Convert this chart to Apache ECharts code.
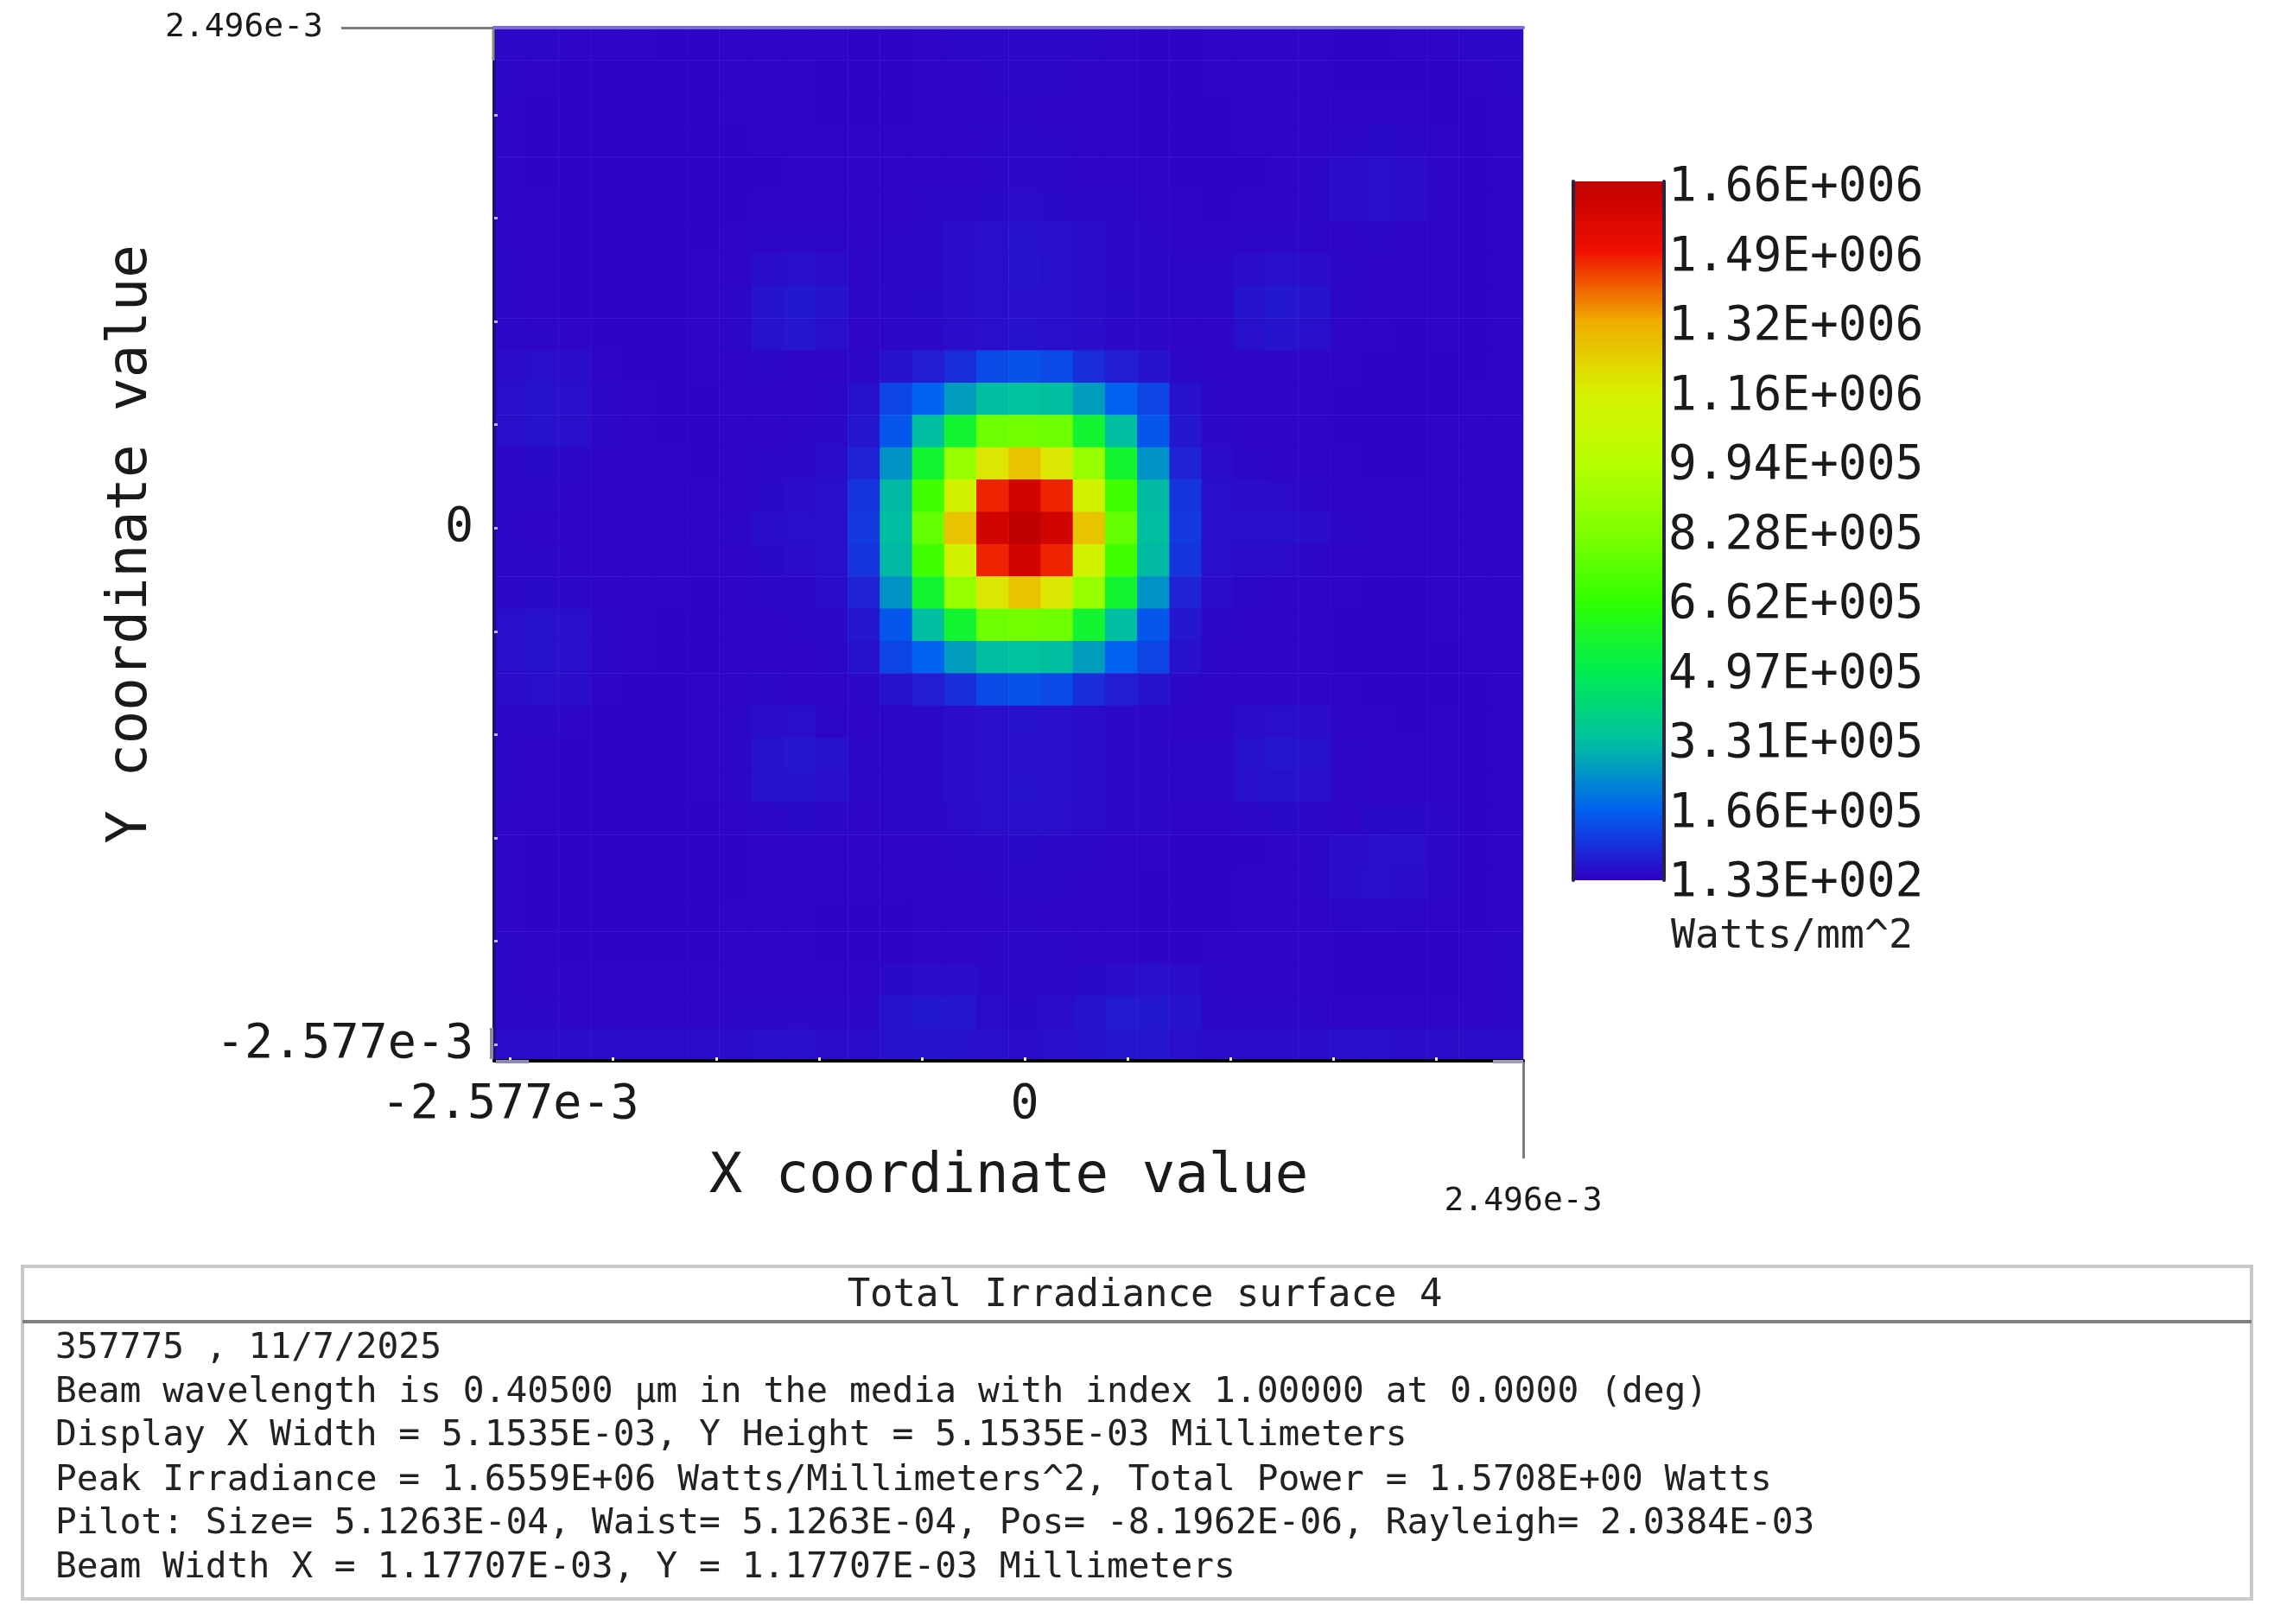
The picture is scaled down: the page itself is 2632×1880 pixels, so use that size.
<!DOCTYPE html>
<html><head><meta charset="utf-8">
<style>html,body{margin:0;padding:0;background:#fff}#c{width:2632px;height:1880px}</style>
<script src="https://cdn.jsdelivr.net/npm/echarts@6/dist/echarts.min.js"></script>
</head><body><div id="c"></div>
<script>
// irradiance, in units of 1000 W/mm^2, rows listed top to bottom, columns left to right
const irradianceRows = [
[14,12,10,10,10, 9, 9,10,11,11,10, 9, 9,10,12,14,15,14,12,10, 9, 9,10,11,11,10, 9, 9,10,10,12,14],
[12,10, 9, 9, 9, 9, 9,10,10,10, 9, 9, 9,10,11,12,13,12,11,10, 9, 9,10,10,10,10, 9, 9, 9, 9,10,12],
[11, 9, 8, 8, 8, 9, 9,10,10,10, 9, 9, 9,10,10,11,12,11,10,10, 9, 9, 9,10,10,10,10,10,10, 9, 9,11],
[11, 9, 8, 8, 8, 8, 9, 9,10,10,10,10,10,10,11,12,13,12,11,10, 9, 9, 9,10,10,10,14,16,14,10, 9,11],
[11, 9, 8, 8, 8, 8, 8, 9, 9,10,10,10,10,10,11,12,14,12,11,10,10, 9, 9, 9,10,12,20,24,20,11, 9,11],
[11,10, 9, 8, 8, 8, 8, 9,10,11,11,10,10,12,14,16,18,16,14,12,10,10, 9,10,11,12,20,24,20,10, 9,11],
[11,10, 9, 8, 8, 8, 9,10,12,14,12,11,12,14,20,28,32,28,20,14,12,11,11,12,14,12,11,12,11,10, 9,11],
[12,10, 9, 8, 8, 9,10,11,22,26,22,12,13,15,22,28,34,28,22,15,13,12,12,22,26,22,12,10,10,10, 9,11],
[12,10, 9, 8, 8, 9,10,12,34,42,34,14,14,16,22,26,28,26,22,16,14,13,13,34,42,34,12,10,10,10, 9,11],
[13,12,10, 9, 9, 9,10,12,30,36,26,10,12,15,20,25,30,25,20,15,12,10,10,28,34,28,11,10, 9,10, 9,11],
[20,26,20,10, 9, 9,10,10,12,11,10,15,35,50,80,130,140,130,80,50,35,15,10,10,11,10,10, 9, 9, 9, 9,11],
[26,32,26,12,10, 9, 9,10,10,10,12,30,120,170,270,330,340,330,270,170,120,30,12,10,10,10, 9, 9, 9, 9,10,11],
[24,30,24,12,10, 9, 9,10,10,12,14,40,150,330,560,790,800,790,560,330,150,40,14,11,10,10, 9, 9, 9,10,10,11],
[14,16,14,11,10,10, 9,10,12,14,22,60,250,560,900,1180,1270,1180,900,560,250,60,20,12,11,10,10, 9, 9,10,10,11],
[12,12,11,10,10,10,10,10,16,20,25,90,320,700,1130,1470,1600,1470,1130,700,320,90,25,20,18,12,10,10,10,10,10,11],
[12,11,10,10,10,10,10,12,22,26,28,100,330,770,1270,1600,1656,1600,1270,770,330,100,28,24,28,22,12,10,10,10,10,11],
[12,12,11,10,10,10,10,10,16,20,25,90,320,700,1130,1470,1600,1470,1130,700,320,90,25,20,18,12,10,10,10,10,10,11],
[14,16,14,11,10,10, 9,10,12,14,22,60,250,560,900,1180,1270,1180,900,560,250,60,20,12,11,10,10, 9, 9,10,10,11],
[24,30,24,12,10, 9, 9,10,10,12,14,40,150,330,560,790,800,790,560,330,150,40,14,11,10,10, 9, 9, 9,10,10,11],
[26,32,26,12,10, 9, 9,10,10,10,12,30,120,170,270,330,340,330,270,170,120,30,12,10,10,10, 9, 9, 9, 9,10,11],
[20,26,20,10, 9, 9,10,10,12,11,10,15,35,50,80,130,140,130,80,50,35,15,10,10,11,10,10, 9, 9, 9, 9,11],
[12,12,10, 9, 9, 9,10,12,20,24,12,10,12,15,20,25,30,25,20,15,12,10,10,20,24,20,11,10, 9,10, 9,11],
[12,10, 9, 8, 8, 9,10,12,32,38,30,13,13,15,20,24,26,24,20,15,13,12,13,30,38,30,12,10,10,10, 9,11],
[12,10, 9, 8, 8, 9,10,12,30,34,28,13,13,15,20,26,30,26,20,15,13,12,13,28,32,28,12,10,10,10, 9,11],
[11,10, 9, 8, 8, 8, 9,10,14,16,14,11,12,14,18,24,28,24,18,14,12,11,11,14,16,14,11,16,16,14, 9,11],
[11, 9, 8, 8, 8, 8, 8, 9,10,10,10,10,10,10,12,14,16,14,12,10,10, 9, 9, 9,10,12,20,26,24,12, 9,11],
[11, 9, 8, 8, 8, 8, 9, 9,10,10,10,10,10,10,11,12,13,12,11,10, 9, 9, 9,10,10,12,22,26,22,12, 9,11],
[11, 9, 8, 8, 8, 9, 9,10,10,10, 9, 9, 9,10,10,11,12,11,10,10, 9, 9, 9,10,10,10,12,14,12,10, 9,11],
[12,10, 9, 9, 9, 9, 9,10,10,10, 9, 9, 9,10,11,12,13,12,11,10, 9, 9,10,10,10,10, 9, 9, 9, 9,10,12],
[12,11,10,10,10,10,10,10,11,11,10,10,16,20,22,14,13,14,16,22,24,20,12,10,10,10, 9, 9, 9, 9,10,12],
[13,12,11,10,10,11,11,12,13,14,13,14,32,42,40,18,16,18,32,44,42,32,14,13,12,12,11,11,10,10,11,13],
[22,20,20,20,22,22,22,22,24,24,22,22,30,34,30,24,22,24,30,38,36,28,22,20,20,22,24,24,22,20,20,18]
];
const xCategories = irradianceRows[0].map((_, i) => String(i));
const yCategories = irradianceRows.map((_, i) => String(i));

const xMinEdge = -2.6575e-3, xMaxEdge = 2.496e-3;
const yMinEdge = -2.6575e-3, yMaxEdge = 2.496e-3;
const tickValues = [-2.577e-3,-2.0616e-3,-1.5462e-3,-1.0308e-3,-0.5154e-3,0,0.5154e-3,1.0308e-3,1.5462e-3,2.0616e-3];
const mainLabelValues = [-2.577e-3, 0];
const mainLabelTexts = ['-2.577e-3', '0'];
const endLabelValue = 2.496e-3;
const endLabelText = '2.496e-3';

const legendLabels = ['1.66E+006','1.49E+006','1.32E+006','1.16E+006','9.94E+005','8.28E+005','6.62E+005','4.97E+005','3.31E+005','1.66E+005','1.33E+002'];
const legendMin = 0.133, legendMax = 1656;
const legendColors = ['#3000c4','#0060f0','#00c0a0','#00ee50','#30ff00','#80ff00','#b8ff00','#d8f000','#f0ac00','#f01000','#c00000'];
const legendUnit = 'Watts/mm^2';

const xName = 'X coordinate value', yName = 'Y coordinate value';
const panelTitle = 'Total Irradiance surface 4';
const infoLines = [
 '357775 , 11/7/2025',
 'Beam wavelength is 0.40500 µm in the media with index 1.00000 at 0.0000 (deg)',
 'Display X Width = 5.1535E-03, Y Height = 5.1535E-03 Millimeters',
 'Peak Irradiance = 1.6559E+06 Watts/Millimeters^2, Total Power = 1.5708E+00 Watts',
 'Pilot: Size= 5.1263E-04, Waist= 5.1263E-04, Pos= -8.1962E-06, Rayleigh= 2.0384E-03',
 'Beam Width X = 1.17707E-03, Y = 1.17707E-03 Millimeters'
];

const FONT = '"DejaVu Sans Mono", monospace';
const TXT = '#1a1a1a';
const cells = [];
irradianceRows.forEach((row, r) => row.forEach((v, c) => cells.push([c, irradianceRows.length - 1 - r, v])));

function labelFor(v) {
  const i = mainLabelValues.findIndex(m => Math.abs(m - v) < 1e-7);
  return i >= 0 ? mainLabelTexts[i] : '';
}
const hidden = {axisLine:{show:false},axisTick:{show:false},axisLabel:{show:false},splitLine:{show:false}};
const chart = echarts.init(document.getElementById('c'), null, {renderer:'canvas'});
const info = infoLines.map((t, i) => ({
  type:'text', x:64, y:[1561,1612,1662,1714,1764,1815][i],
  style:{text:t, font:'41.25px '+FONT, fill:'#222', textVerticalAlign:'middle'}
}));
chart.setOption({
  animation:false,
  backgroundColor:'#fff',
  grid:[
    {left:572, top:32, width:1191, height:1196},
    {left:1821, top:210, width:105, height:809},
    {left:1821, top:218, width:105, height:805}
  ],
  xAxis:[
    {type:'category', gridIndex:0, data:xCategories, ...hidden},
    {type:'value', gridIndex:0, position:'bottom', min:xMinEdge, max:xMaxEdge, z:10,
     name:xName, nameLocation:'middle', nameGap:103, nameTextStyle:{fontFamily:FONT,fontSize:64,color:TXT},
     splitLine:{show:false},
     axisLine:{show:true,onZero:false,lineStyle:{color:'#000',width:4}},
     axisTick:{show:true,inside:true,length:4,customValues:tickValues,lineStyle:{color:'#e8e8f0',width:3}},
     axisLabel:{show:true,customValues:mainLabelValues,formatter:labelFor,margin:24,fontFamily:FONT,fontSize:55,color:TXT,hideOverlap:false}},
    {type:'value', gridIndex:0, position:'bottom', min:xMinEdge, max:xMaxEdge, z:9,
     splitLine:{show:false}, axisLine:{show:false,onZero:false},
     axisTick:{show:true,length:113,customValues:[endLabelValue],lineStyle:{color:'#7c7c7c',width:3}},
     axisLabel:{show:true,customValues:[endLabelValue],formatter:()=>endLabelText,margin:144,fontFamily:FONT,fontSize:38,color:TXT,hideOverlap:false}},
    {type:'value', gridIndex:0, position:'top', min:xMinEdge, max:xMaxEdge, z:10,
     splitLine:{show:false}, axisTick:{show:false}, axisLabel:{show:false},
     axisLine:{show:true,onZero:false,lineStyle:{color:'#7a6ad6',width:4}}},
    {type:'value', gridIndex:1, min:0, max:1, ...hidden},
    {type:'value', gridIndex:2, min:0, max:1, ...hidden}
  ],
  yAxis:[
    {type:'category', gridIndex:0, data:yCategories, ...hidden},
    {type:'value', gridIndex:0, position:'left', min:yMinEdge, max:yMaxEdge, z:10,
     name:yName, nameLocation:'middle', nameGap:388, nameRotate:90, nameTextStyle:{fontFamily:FONT,fontSize:64,color:TXT},
     splitLine:{show:false},
     axisLine:{show:true,onZero:false,lineStyle:{color:'#1c1070',width:4}},
     axisTick:{show:true,inside:true,length:4,customValues:tickValues,lineStyle:{color:'#b8b0f0',width:3}},
     axisLabel:{show:true,customValues:mainLabelValues,formatter:labelFor,margin:24,fontFamily:FONT,fontSize:55,color:TXT,hideOverlap:false}},
    {type:'value', gridIndex:0, position:'left', min:yMinEdge, max:yMaxEdge, z:9,
     splitLine:{show:false}, axisLine:{show:false,onZero:false},
     axisTick:{show:true,length:177,customValues:[endLabelValue],lineStyle:{color:'#7c7c7c',width:3}},
     axisLabel:{show:true,customValues:[endLabelValue],formatter:()=>endLabelText,margin:198,fontFamily:FONT,fontSize:38,color:TXT,hideOverlap:false}},
    {type:'value', gridIndex:1, position:'right', min:0, max:1, z:10,
     splitLine:{show:false}, axisTick:{show:false}, axisLabel:{show:false},
     axisLine:{show:true,onZero:false,lineStyle:{color:'#2a2440',width:4}}},
    {type:'value', gridIndex:1, position:'left', min:0, max:1, z:10,
     splitLine:{show:false}, axisTick:{show:false}, axisLabel:{show:false},
     axisLine:{show:true,onZero:false,lineStyle:{color:'#2a2440',width:4}}},
    {type:'category', gridIndex:2, inverse:true, boundaryGap:false, position:'right', data:legendLabels, z:10,
     splitLine:{show:false}, axisTick:{show:false}, axisLine:{show:false,onZero:false},
     axisLabel:{show:true,interval:0,margin:5,fontFamily:FONT,fontSize:54.5,color:TXT,hideOverlap:false}}
  ],
  visualMap:{
    type:'continuous', min:legendMin, max:legendMax, dimension:2, seriesIndex:0,
    calculable:false, realtime:false, hoverLink:false, silent:true,
    left:1821, top:210, itemWidth:105, itemHeight:809, padding:0, text:['',''], showLabel:false, z:1,
    inRange:{color:legendColors}
  },
  series:[{
    type:'heatmap', xAxisIndex:0, yAxisIndex:0, data:cells, progressive:0, silent:true,
    itemStyle:{borderWidth:0}, emphasis:{disabled:true}
  }],
  graphic:[
    {type:'rect', shape:{x:26,y:1466,width:2580,height:385}, style:{fill:'none',stroke:'#c8c8c8',lineWidth:4}, z:0},
    {type:'line', shape:{x1:26,y1:1530,x2:2606,y2:1530}, style:{stroke:'#7f7f7f',lineWidth:4}, z:1},
    {type:'text', x:1325, y:1501, style:{text:panelTitle, font:'44px '+FONT, fill:'#222', textAlign:'center', textVerticalAlign:'middle'}},
    ...info,
    {type:'text', x:1934, y:1085, style:{text:legendUnit, font:'46.5px '+FONT, fill:'#222', textVerticalAlign:'middle'}},
    {type:'line', shape:{x1:569,y1:1190,x2:569,y2:1226}, style:{stroke:'#8a8aa0',lineWidth:4}, z:20},
    {type:'line', shape:{x1:571,y1:33,x2:571,y2:70}, style:{stroke:'#8a8a8a',lineWidth:3}, z:20},
    {type:'line', shape:{x1:574,y1:1229,x2:612,y2:1229}, style:{stroke:'#9088b8',lineWidth:4}, z:20},
    {type:'line', shape:{x1:1728,y1:1229,x2:1763,y2:1229}, style:{stroke:'#a0a0b0',lineWidth:4}, z:20}
  ]
});
</script></body></html>
